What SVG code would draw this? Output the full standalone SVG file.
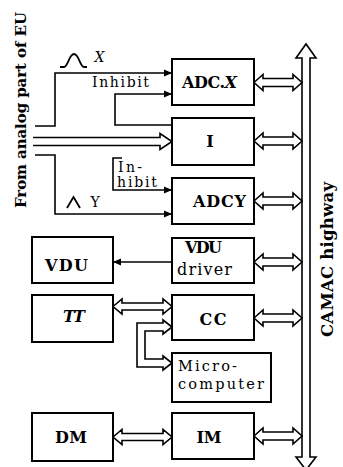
<svg xmlns="http://www.w3.org/2000/svg" width="343" height="467" viewBox="0 0 343 467">
<defs>
<style>
.box{fill:#fff;stroke:#000;stroke-width:2}
.ln{fill:none;stroke:#000;stroke-width:1.6}
.dbl{fill:#fff;stroke:#000;stroke-width:1.6;stroke-linejoin:miter}
.pulse{fill:none;stroke:#000;stroke-width:1.8}
.lbl{font-family:"DejaVu Serif","Liberation Serif",serif;font-size:16px;fill:#000;text-anchor:middle}
.b{font-weight:bold}
.sm{font-family:"DejaVu Serif","Liberation Serif",serif;font-size:14px;fill:#000}
.side{font-family:"DejaVu Serif","Liberation Serif",serif;font-weight:bold;fill:#000;text-anchor:middle}
</style>
<marker id="ah" markerWidth="9" markerHeight="8" refX="8" refY="4" orient="auto" markerUnits="userSpaceOnUse"><path d="M0,0.5 L8,4 L0,7.5 Z" fill="#000"/></marker>
</defs>
<rect width="343" height="467" fill="#fff"/>

<g id="connectors">
  <!-- inputs from analog part -->
  <path class="ln" d="M35,126 H55 V73 H172" marker-end="url(#ah)"/>
  <path class="ln" d="M172,125 H115 V94 H172" marker-end="url(#ah)"/>
  <path class="dbl" d="M33,137.5 H160 V133.5 L172,141.5 L160,149.5 V145.5 H33"/>
  <path class="ln" d="M35,155 H55 V214 H172" marker-end="url(#ah)"/>
  <path class="ln" d="M122,158 H113 V190 H172" marker-end="url(#ah)"/>
  <path class="pulse" d="M60,67 L64,67 C68,67 69,54 74,54 C79,54 80,67 84,67 L87,67"/>
  <path class="pulse" d="M67,208 L73.5,197 L80,208"/>
  <!-- VDU driver to VDU -->
  <path class="ln" d="M172,262 H113" marker-end="url(#ah)"/>
  <!-- CAMAC highway bus -->
  <path class="dbl" d="M302,58 L296,58 L306,44 L316,58 L310,58 L310,457 L316,457 L306,470 L296,457 L302,457 Z"/>
  <!-- box <-> bus -->
  <polygon class="dbl" points="254,82.5 263,74.5 263,78.5 293,78.5 293,74.5 302,82.5 293,90.5 293,86.5 263,86.5 263,90.5"/>
  <polygon class="dbl" points="254,141 263,133 263,137 293,137 293,133 302,141 293,149 293,145 263,145 263,149"/>
  <polygon class="dbl" points="254,201 263,193 263,197 293,197 293,193 302,201 293,209 293,205 263,205 263,209"/>
  <polygon class="dbl" points="254,262 263,254 263,258 293,258 293,254 302,262 293,270 293,266 263,266 263,270"/>
  <polygon class="dbl" points="254,318 263,310 263,314 293,314 293,310 302,318 293,326 293,322 263,322 263,326"/>
  <polygon class="dbl" points="254,436 263,428 263,432 293,432 293,428 302,436 293,444 293,440 263,440 263,444"/>
  <!-- TT <-> CC, DM <-> IM -->
  <polygon class="dbl" points="113,306.5 122,299 122,303 163,303 163,299 172,306.5 163,314 163,310 122,310 122,314"/>
  <polygon class="dbl" points="113,437 122,429.5 122,433.5 163,433.5 163,429.5 172,437 163,444.5 163,440.5 122,440.5 122,444.5"/>
  <!-- CC <-> Micro-computer loop -->
  <polygon class="dbl" points="172,327 163,320 163,323 137,323 137,367 163,367 163,370 172,363 163,356 163,359 145,359 145,331 163,331 163,334"/>
</g>

<g id="adcx"><rect class="box" x="172" y="59" width="82" height="46"/><text class="lbl b" x="209.5" y="88" textLength="55">ADC.<tspan font-style="italic">X</tspan></text></g>
<g id="i"><rect class="box" x="172" y="118" width="82" height="47"/><text class="lbl b" x="210" y="147">I</text></g>
<g id="adcy"><rect class="box" x="172" y="178" width="82" height="46"/><text class="lbl b" x="219.5" y="207" textLength="53">ADCY</text></g>
<g id="vdudriver"><rect class="box" x="172" y="238" width="82" height="45"/><text class="lbl b" x="203.5" y="253" textLength="37">VDU</text><text class="lbl" x="204.5" y="275" textLength="55">driver</text></g>
<g id="cc"><rect class="box" x="172" y="295" width="82" height="45"/><text class="lbl b" x="213" y="325" textLength="27">CC</text></g>
<g id="micro"><rect class="box" x="172" y="353" width="99" height="49"/><text class="lbl" x="178" y="371" style="text-anchor:start;font-size:14.5px" textLength="59">Micro-</text><text class="lbl" x="178" y="389" style="text-anchor:start;font-size:14.5px" textLength="86">computer</text></g>
<g id="im"><rect class="box" x="172" y="413" width="82" height="46"/><text class="lbl b" x="209" y="443" textLength="25">IM</text></g>
<g id="vdu"><rect class="box" x="32" y="237" width="81" height="46"/><text class="lbl b" x="66.5" y="271" textLength="43">VDU</text></g>
<g id="tt"><rect class="box" x="32" y="295" width="81" height="47"/><text class="lbl b" x="74" y="322" font-style="italic" textLength="22">TT</text></g>
<g id="dm"><rect class="box" x="32" y="413" width="81" height="48"/><text class="lbl b" x="71" y="443" textLength="32">DM</text></g>

<g id="labels">
  <text class="sm" x="99.5" y="62" font-size="13" font-style="italic" text-anchor="middle">X</text>
  <text class="sm" x="95" y="207" font-size="14" text-anchor="middle">Y</text>
  <text class="sm" x="92" y="86.5" textLength="57">Inhibit</text>
  <text class="sm" x="118" y="172" textLength="24">In-</text>
  <text class="sm" x="117" y="187" textLength="40">hibit</text>
  <text class="side" font-size="16.5" transform="translate(333,259.5) rotate(-90)" textLength="155">CAMAC highway</text>
  <text class="side" font-size="15" transform="translate(26,110) rotate(-90)" textLength="196">From analog part of EU</text>
</g>
</svg>
